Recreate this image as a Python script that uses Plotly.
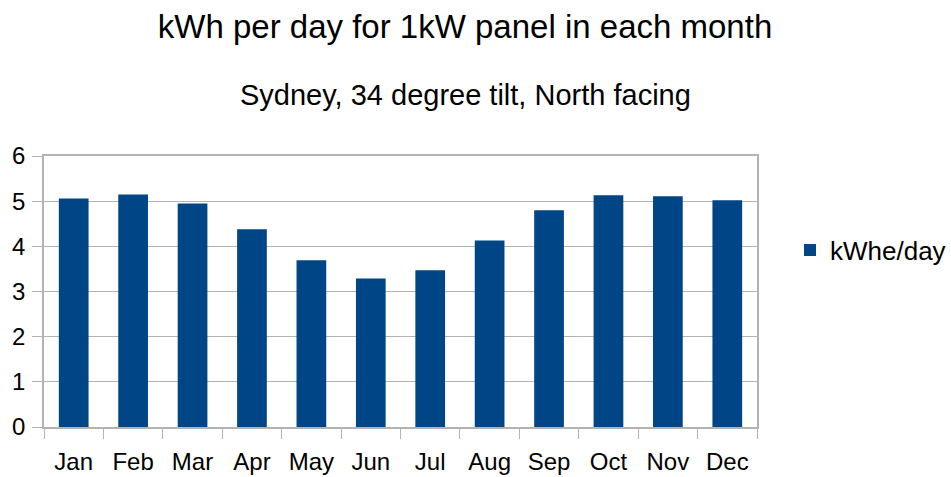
import plotly.graph_objects as go

months = ["Jan", "Feb", "Mar", "Apr", "May", "Jun", "Jul", "Aug", "Sep", "Oct", "Nov", "Dec"]
kwhe_per_day = [5.06, 5.15, 4.95, 4.38, 3.69, 3.29, 3.47, 4.13, 4.80, 5.13, 5.11, 5.02]
series_name = "kWhe/day"
title_text = "kWh per day for 1kW panel in each month"
subtitle_text = "Sydney, 34 degree tilt, North facing"
y_ticks = [0, 1, 2, 3, 4, 5, 6]

FONT = "Liberation Sans, Arial, sans-serif"
BAR = "#004586"
GRID = "#b3b3b3"

fig = go.Figure()
fig.add_trace(go.Bar(x=months, y=kwhe_per_day, name=series_name,
                     marker=dict(color=BAR, line=dict(width=0))))

fig.update_layout(
    width=951, height=477,
    paper_bgcolor="white", plot_bgcolor="white",
    margin=dict(l=44, r=194, t=156, b=50, autoexpand=False),
    font=dict(family=FONT, color="black", size=24),
    title=dict(text=title_text, x=465 / 951, xanchor="center", xref="container",
               y=1 - 26 / 477, yanchor="middle", yref="container",
               font=dict(size=33, family=FONT, color="black")),
    bargap=0.5,
    showlegend=True,
    legend=dict(x=(790 - 44) / 713, y=(427 - 250) / 271, xanchor="left", yanchor="middle",
                font=dict(size=26, family=FONT), itemsizing="constant",
                bgcolor="rgba(0,0,0,0)"),
    annotations=[dict(text=subtitle_text, x=(465 - 44) / 713, xref="paper", xanchor="center",
                      y=(427 - 95) / 271, yref="paper", yanchor="middle",
                      showarrow=False,
                      font=dict(size=29, family=FONT, color="black"))],
)

fig.update_xaxes(
    type="category", tickson="boundaries", ticks="outside", ticklen=10,
    tickcolor=GRID, showline=True, linecolor=GRID, linewidth=1.5,
    mirror=True, showgrid=False, ticklabelstandoff=12, automargin=False,
    tickfont=dict(size=24),
)
fig.update_yaxes(
    range=[0, 6], tickvals=y_ticks, ticks="outside", ticklen=10,
    tickcolor=GRID, showline=True, linecolor=GRID, linewidth=1.5, mirror=True,
    showgrid=True, gridcolor=GRID, gridwidth=1, zeroline=False,
    ticklabelstandoff=2, automargin=False, tickfont=dict(size=24),
)

fig.write_html("out.html", config={"displayModeBar": False},
               post_script="document.body.style.margin='0';")
